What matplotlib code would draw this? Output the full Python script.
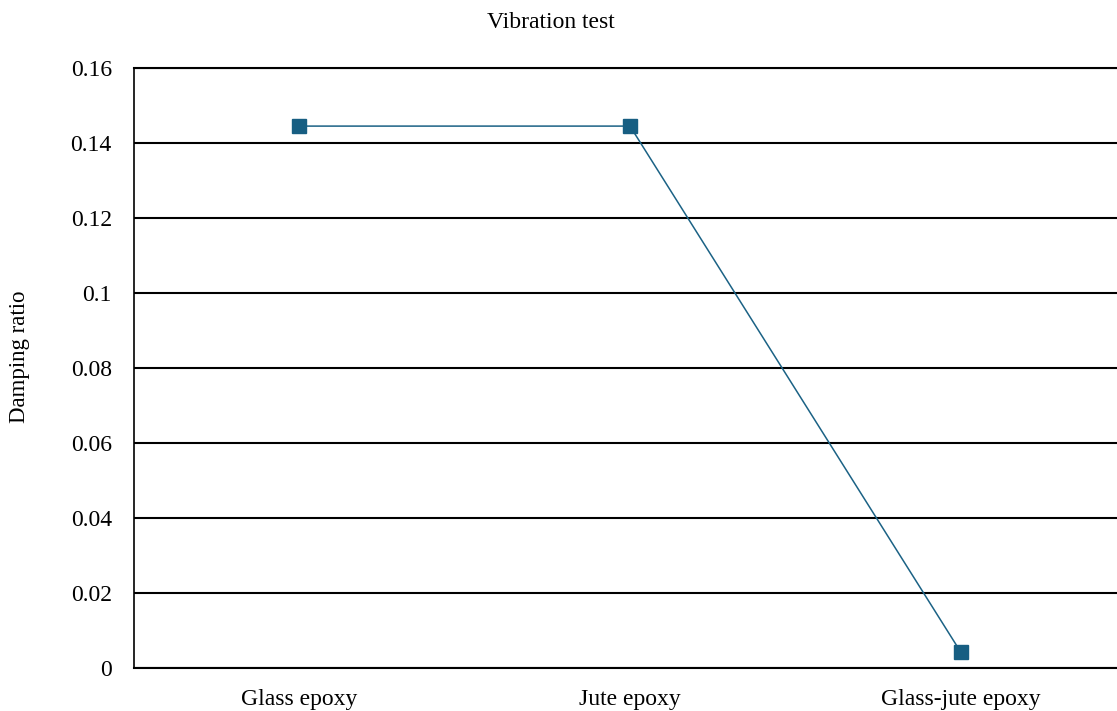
import numpy as np
import matplotlib.pyplot as plt

plt.rcParams['font.family'] = ['Liberation Serif', 'DejaVu Serif']

materials = ['Glass epoxy', 'Jute epoxy', 'Glass-jute epoxy']
damping_ratio = [0.1445, 0.1445, 0.0043]
yticks = [0, 0.02, 0.04, 0.06, 0.08, 0.1, 0.12, 0.14, 0.16]
ytick_labels = ['0', '0.02', '0.04', '0.06', '0.08', '0.1', '0.12', '0.14', '0.16']

fig = plt.figure(figsize=(11.17, 7.11), dpi=100)
ax = fig.add_axes([0.12, 0.0605, 0.888, 0.8439])

x = np.arange(len(materials))
ax.plot(x, damping_ratio, color='#1b6285', lw=1.1, marker='s', ms=10.5,
        mfc='#175e82', mec='#175e82', zorder=3)

ax.set_xlim(-0.5, 2.5)
ax.set_ylim(0, 0.16)
ax.set_yticks(yticks)
ax.set_yticklabels(ytick_labels)
ax.set_xticks(x)
ax.set_xticklabels(materials)
ax.tick_params(length=0, labelsize=17)
ax.tick_params(axis='y', pad=16)
ax.tick_params(axis='x', pad=15)

ax.grid(axis='y', color='black', lw=1.5)
ax.set_axisbelow(True)
ax.spines['right'].set_visible(False)
ax.spines['top'].set_linewidth(1.5)
ax.spines['left'].set_linewidth(1.2)
ax.spines['bottom'].set_linewidth(1.5)

fig.text(20 / 1117, 1 - 357 / 711, 'Damping ratio', rotation=90,
         ha='center', va='center', fontsize=16.5)
fig.text(551 / 1117, 1 - 22 / 711, 'Vibration test', ha='center', va='center',
         fontsize=17)

fig.savefig('out.png', dpi=100)
